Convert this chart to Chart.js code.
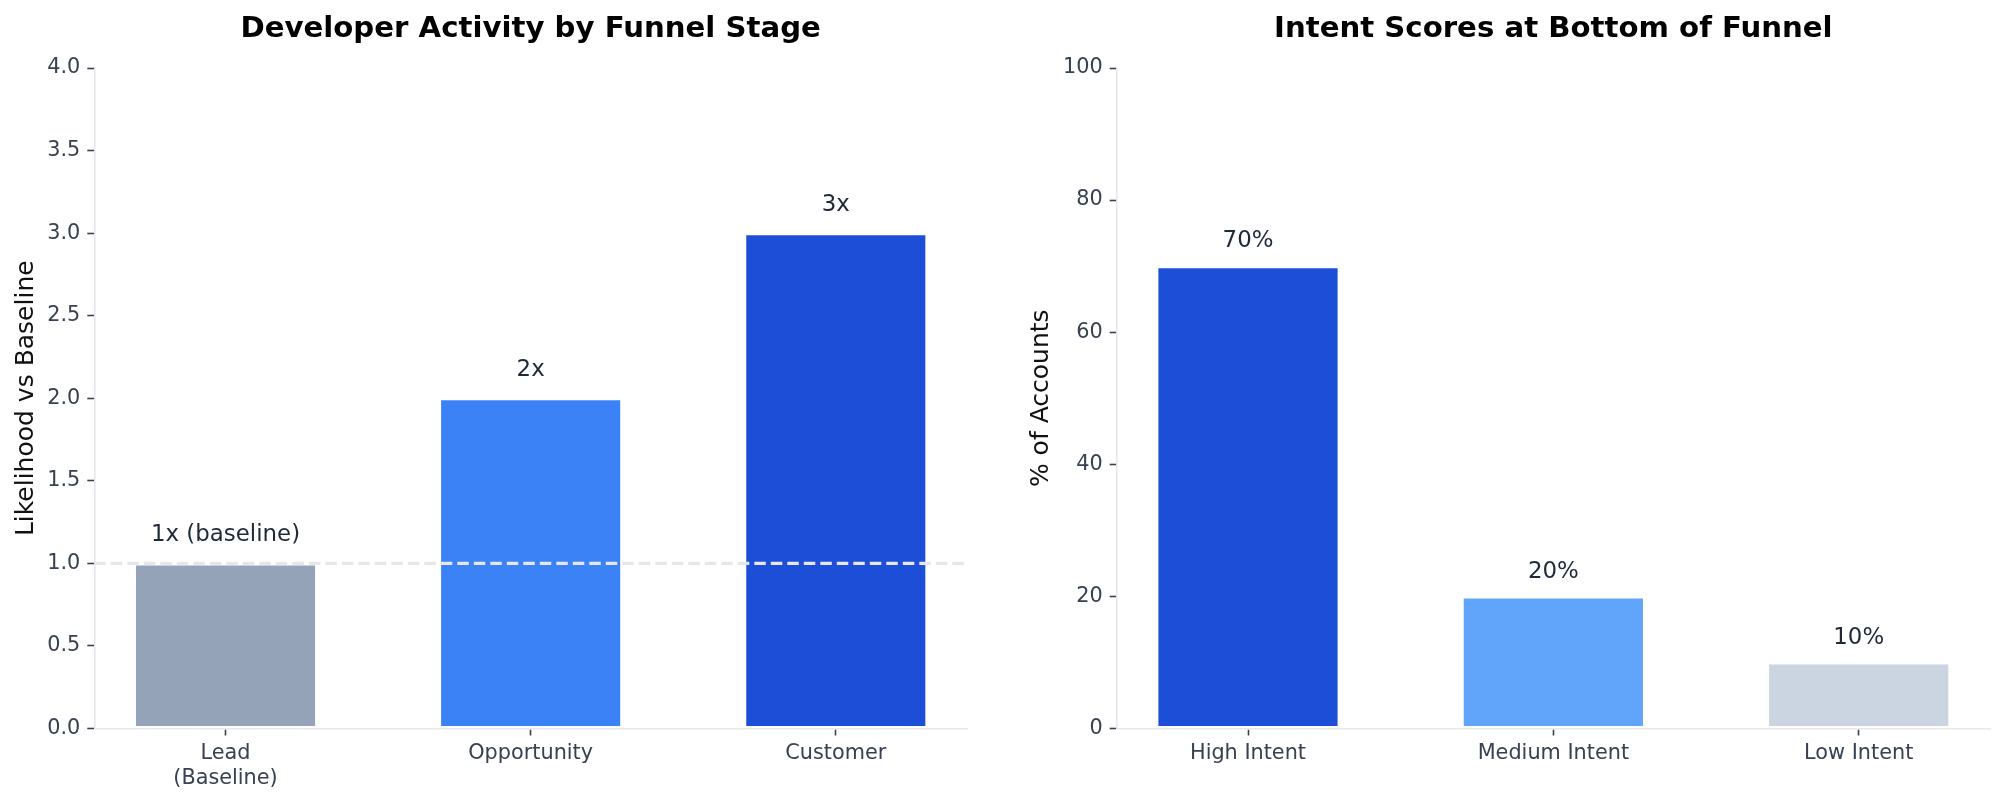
<!DOCTYPE html>
<html>
<head>
<meta charset="utf-8">
<script src="https://cdn.jsdelivr.net/npm/chart.js@4.4.1/dist/chart.umd.min.js"></script>
<style>
html,body{margin:0;padding:0;background:#ffffff;}
#wrap{position:relative;width:2004px;height:802px;overflow:hidden;background:#ffffff;}
canvas{position:absolute;top:0;}
</style>
</head>
<body>
<div id="wrap">
<canvas id="c1" width="1002" height="802" style="left:0px;width:1002px;height:802px"></canvas>
<canvas id="c2" width="1002" height="802" style="left:1002px;width:1002px;height:802px"></canvas>
</div>
<script>
// ---------- data ----------
const stageTitle = 'Developer Activity by Funnel Stage';
const stageLabels = [['Lead', '(Baseline)'], 'Opportunity', 'Customer'];
const stageValues = [1, 2, 3];
const stageAnnotations = ['1x (baseline)', '2x', '3x'];
const stageColors = ['#94a3b8', '#3b82f6', '#1d4ed8'];
const stageYTicks = [0, 0.5, 1, 1.5, 2, 2.5, 3, 3.5, 4];
const stageAxisTitle = 'Likelihood vs Baseline';
const baselineValue = 1;

const intentTitle = 'Intent Scores at Bottom of Funnel';
const intentLabels = ['High Intent', 'Medium Intent', 'Low Intent'];
const intentValues = [70, 20, 10];
const intentAnnotations = ['70%', '20%', '10%'];
const intentColors = ['#1d4ed8', '#60a5fa', '#cbd5e1'];
const intentYTicks = [0, 20, 40, 60, 80, 100];
const intentAxisTitle = '% of Accounts';

// ---------- style ----------
const FONT = '"DejaVu Sans", "Liberation Sans", sans-serif';
Chart.defaults.font.family = FONT;
const TICK_COLOR = '#374151';
const SPINE_COLOR = '#e5e7eb';

const panelTitle = {
  id: 'panelTitle',
  afterDraw(chart, args, opts) {
    const {ctx, chartArea} = chart;
    ctx.save();
    ctx.font = 'bold 29.2px ' + FONT;
    ctx.fillStyle = '#000000';
    ctx.textAlign = 'center';
    ctx.textBaseline = 'alphabetic';
    ctx.fillText(opts.text, (chartArea.left + chartArea.right) / 2, 37);
    ctx.restore();
  }
};

const barLabels = {
  id: 'barLabels',
  afterDatasetsDraw(chart, args, opts) {
    const {ctx} = chart;
    const ys = chart.scales.y;
    const meta = chart.getDatasetMeta(0);
    ctx.save();
    ctx.font = '22.9px ' + FONT;
    ctx.fillStyle = '#1f2937';
    ctx.textAlign = 'center';
    ctx.textBaseline = 'bottom';
    meta.data.forEach((bar, i) => {
      ctx.fillText(opts.labels[i], bar.x, ys.getPixelForValue(opts.values[i] + opts.offset));
    });
    ctx.restore();
  }
};

const refLine = {
  id: 'refLine',
  afterDatasetsDraw(chart, args, opts) {
    if (opts.value === undefined || opts.value === null) return;
    const {ctx, chartArea} = chart;
    const y = chart.scales.y.getPixelForValue(opts.value);
    ctx.save();
    ctx.strokeStyle = '#e5e7eb';
    ctx.lineWidth = 3.1;
    ctx.setLineDash([11.5, 5]);
    ctx.beginPath();
    ctx.moveTo(chartArea.left, y);
    ctx.lineTo(chartArea.right, y);
    ctx.stroke();
    ctx.restore();
  }
};

function makeChart(canvasId, cfg) {
  const n = cfg.labels.length;
  const points = cfg.values.map((v, i) => ({x: i, y: v}));
  return new Chart(document.getElementById(canvasId), {
    type: 'bar',
    data: {
      datasets: [{
        data: points,
        backgroundColor: cfg.colors,
        borderColor: '#ffffff',
        borderWidth: 2,
        borderSkipped: false,
        categoryPercentage: 1.0,
        barPercentage: 0.6
      }]
    },
    plugins: [refLine, barLabels, panelTitle],
    options: {
      responsive: false,
      animation: false,
      devicePixelRatio: 1,
      layout: {padding: {left: 0, top: 68, right: cfg.padRight, bottom: 0}},
      plugins: {
        legend: {display: false},
        tooltip: {enabled: false},
        title: {display: false},
        panelTitle: {text: cfg.title},
        barLabels: {labels: cfg.annotations, values: cfg.values, offset: cfg.labelOffset},
        refLine: {value: cfg.refValue}
      },
      scales: {
        x: {
          type: 'linear',
          offset: false,
          min: -0.43,
          max: (n - 1) + 0.43,
          afterBuildTicks: (scale) => { scale.ticks = cfg.labels.map((l, i) => ({value: i})); },
          afterFit: (scale) => { scale.height = 73.5; },
          grid: {display: true, offset: false, drawOnChartArea: false, drawTicks: true, tickLength: 7, tickColor: TICK_COLOR, tickWidth: 1.6},
          border: {display: true, color: SPINE_COLOR, width: 1.6},
          ticks: {
            autoSkip: false,
            maxRotation: 0,
            padding: 6,
            color: TICK_COLOR,
            font: {size: 20.8, lineHeight: 1.2},
            callback: (v) => cfg.labels[Math.round(v)]
          }
        },
        y: {
          type: 'linear',
          min: cfg.yTicks[0],
          max: cfg.yTicks[cfg.yTicks.length - 1],
          afterBuildTicks: (scale) => { scale.ticks = cfg.yTicks.map(v => ({value: v})); },
          afterFit: (scale) => { scale.width = cfg.yAxisWidth; },
          grid: {display: true, drawOnChartArea: false, drawTicks: true, tickLength: 7, tickColor: TICK_COLOR, tickWidth: 1.6},
          border: {display: true, color: SPINE_COLOR, width: 1.6},
          ticks: {
            padding: 7,
            color: TICK_COLOR,
            font: {size: 20.8},
            callback: cfg.tickFormat
          },
          title: {
            display: true,
            text: cfg.axisTitle,
            color: '#111111',
            font: {size: 25, lineHeight: 1.2},
            padding: {top: cfg.axisTitlePad, bottom: 0}
          }
        }
      }
    }
  });
}

makeChart('c1', {
  title: stageTitle,
  labels: stageLabels,
  values: stageValues,
  annotations: stageAnnotations,
  colors: stageColors,
  yTicks: stageYTicks,
  axisTitle: stageAxisTitle,
  tickFormat: (v) => Number(v).toFixed(1),
  labelOffset: 0.1,
  refValue: baselineValue,
  padRight: 35,
  yAxisWidth: 94.3,
  axisTitlePad: 11
});

makeChart('c2', {
  title: intentTitle,
  labels: intentLabels,
  values: intentValues,
  annotations: intentAnnotations,
  colors: intentColors,
  yTicks: intentYTicks,
  axisTitle: intentAxisTitle,
  tickFormat: (v) => String(v),
  labelOffset: 2,
  refValue: null,
  padRight: 14,
  yAxisWidth: 114.7,
  axisTitlePad: 24
});
</script>
</body>
</html>
